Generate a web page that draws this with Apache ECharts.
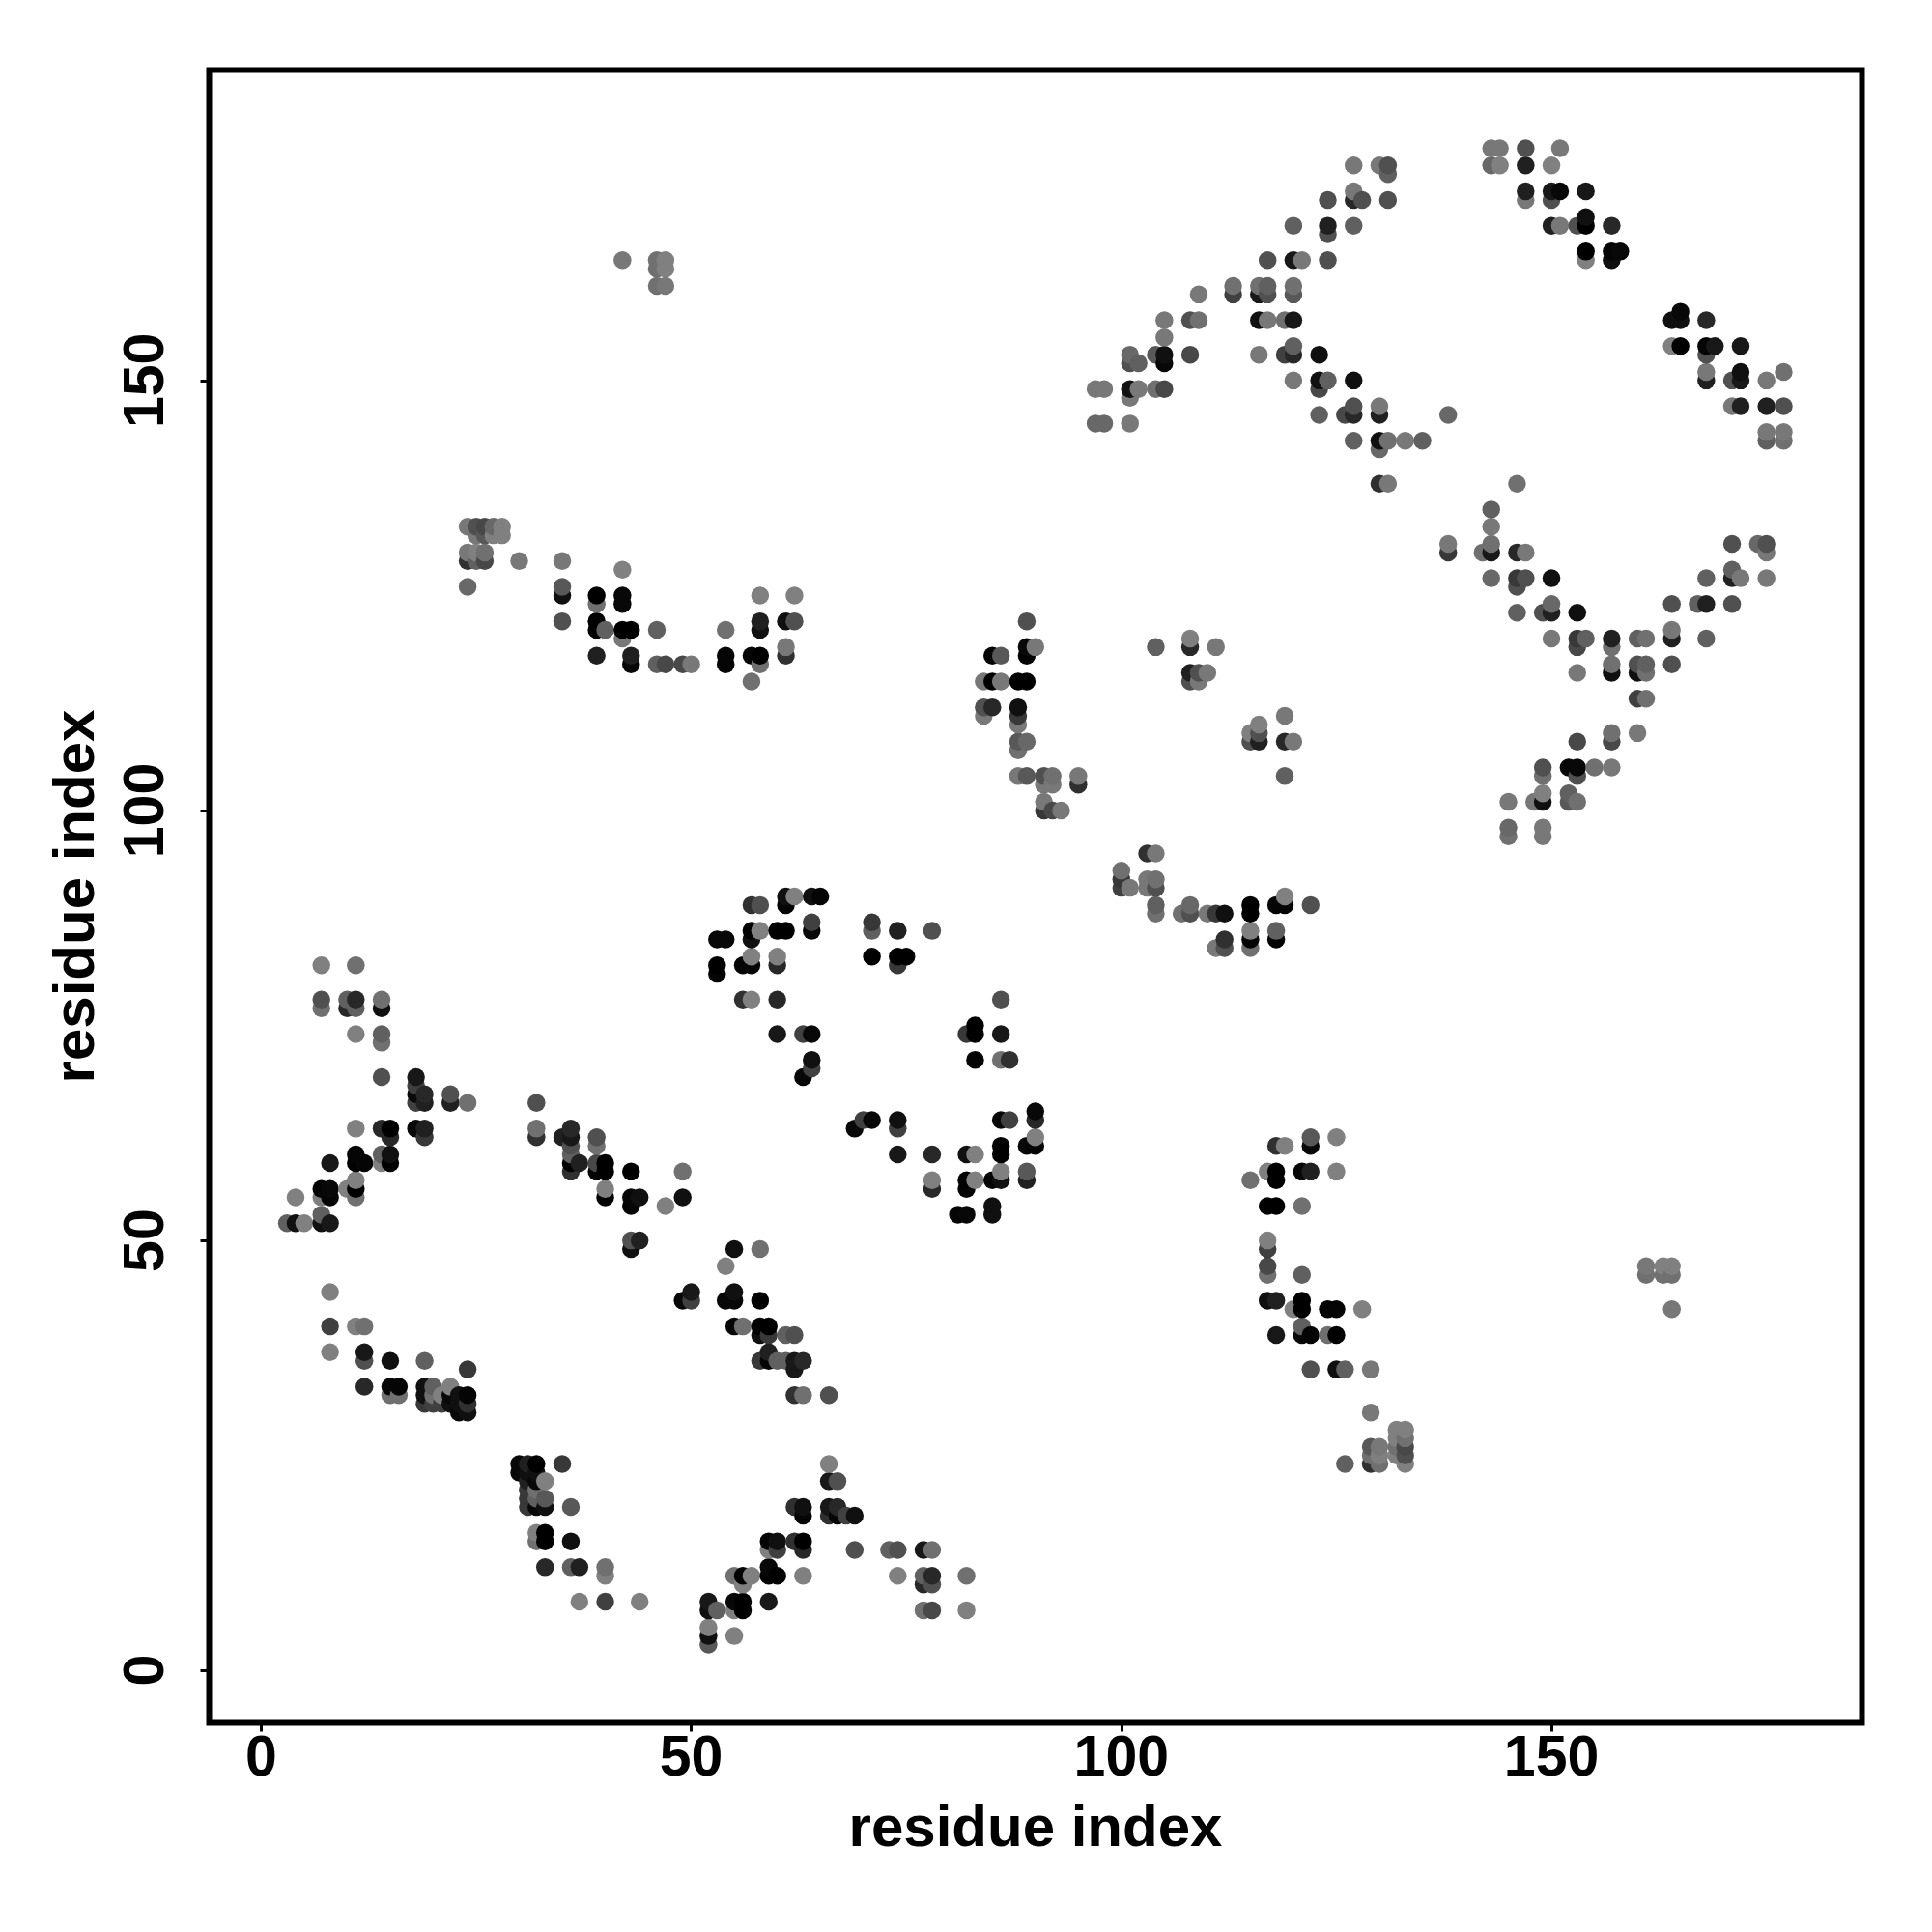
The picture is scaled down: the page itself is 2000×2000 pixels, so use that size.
<!DOCTYPE html>
<html>
<head>
<meta charset="utf-8">
<style>html,body{margin:0;padding:0;background:#fff}#chart{width:2000px;height:2000px}</style>
<script src="https://cdn.jsdelivr.net/npm/echarts@6/dist/echarts.min.js"></script>
</head>
<body>
<div id="chart"></div>
<script>
// Each contact: [residue x, residue y, grey level]
const lowerLeft = [
[8,44,128],[8,40,64],[11,40,128],[12,40,112],[8,37,128],[12,37,24],[12,36,80],[15,36,16],[19,36,96],[24,35,56],
[12,33,40],[15,33,8],[16,33,5],[15,32,112],[16,32,112],[19,33,16],[20,33,96],[19,32,16],[19,31,56],[20,31,64],[20,32,112],
[21,31,64],[21,32,128],[22,33,128],[22,32,8],[22,31,16],[23,32,16],[24,32,5],[23,31,16],[24,31,48],[23,30,8],[24,30,16],
[30,24,8],[31,24,32],[32,24,0],[35,24,56],[30,23,8],[31,23,16],[32,23,16],[31,22,32],[32,22,8],[33,22,128],
[31,21,56],[32,21,112],[33,20,88],[31,20,56],[32,20,96],[31,19,56],[32,19,8],[33,19,16],[36,19,88],
[32,16,128],[33,16,0],[32,15,112],[33,15,0],[36,15,16],[33,12,40],[36,12,96],[37,12,32],[40,12,112],[40,11,128],
[37,8,128],[40,8,64],[44,8,128]
];
const lowerMiddle = [
[49,43,8],[50,44,24],[50,43,64],[55,49,16],[58,49,112],[54,47,128],[55,44,16],[54,43,8],[55,43,8],[58,43,0],
[55,40,5],[56,40,112],[58,40,0],[59,40,0],[58,39,16],[59,39,56],[61,39,96],[62,39,80],[59,37,32],[58,36,56],[59,36,5],
[60,36,96],[61,36,96],[62,36,24],[63,36,40],[62,35,24],[62,32,48],[63,32,112],[66,32,80],[66,24,128],[66,22,24],[67,22,80],
[62,19,48],[63,19,16],[63,18,5],[66,19,24],[67,19,40],[66,18,48],[67,18,5],[68,18,64],[69,18,16],
[59,15,5],[60,15,16],[59,14,128],[60,14,64],[62,15,48],[63,15,0],[63,14,40],[69,14,80],[73,14,96],[74,14,80],[77,14,24],[78,14,112],
[55,11,112],[56,11,0],[57,11,128],[56,10,128],[59,12,8],[59,11,0],[60,11,0],[63,11,128],[74,11,128],[77,11,96],[78,11,40],
[77,10,40],[78,10,80],[82,11,112],[52,8,24],[52,7,16],[53,7,96],[55,8,8],[56,8,0],[55,7,128],[56,7,0],[59,8,24],
[77,7,112],[78,7,72],[82,7,128],[55,4,128],[52,5,128],[52,4,16],[52,3,88]
];
const leftBranch = [
[7,82,128],[11,82,112],[7,78,80],[7,77,112],[10,78,96],[11,78,40],[10,77,40],[11,77,96],[14,78,112],[14,77,16],
[11,74,128],[14,74,96],[14,73,112],[14,69,80],[18,69,24],[18,68,64],[18,67,8],[19,67,40],[18,66,64],[19,66,32],
[22,67,80],[22,66,32],[24,66,112],[11,63,128],[14,63,40],[15,63,0],[15,62,40],[18,63,8],[19,63,32],[19,62,56],
[11,60,5],[8,59,24],[11,59,0],[12,59,5],[14,60,96],[15,60,16],[14,59,128],[15,59,0],[7,56,5],[8,56,8],[7,55,128],[8,55,5],
[4,55,128],[10,56,128],[11,57,128],[11,56,0],[11,55,112],[7,53,96],[3,52,96],[4,52,16],[5,52,128],[7,52,16],[8,52,24],
[32,66,80],[32,63,112],[32,62,48],[36,63,40],[35,62,32],[36,62,24],[36,61,80],[36,60,96],[36,59,0],[37,59,32],[36,58,48],
[39,62,80],[39,61,112],[39,59,72],[40,59,0],[39,58,5],[40,58,0],[43,58,0],[49,58,112],[40,56,128],[40,55,0],
[43,55,8],[44,55,16],[43,54,5],[47,54,128],[49,55,16],[43,50,80],[44,50,32],[43,49,16]
];
const middleGroup = [
[57,89,48],[58,89,80],[61,90,16],[62,90,128],[61,89,5],[64,90,16],[65,90,5],[53,85,8],[54,85,8],[57,86,0],[58,86,128],[57,85,16],
[60,86,0],[61,86,0],[64,87,64],[64,86,8],[53,82,0],[53,81,5],[56,82,5],[57,83,128],[57,82,5],[60,83,128],[60,82,40],
[56,78,48],[57,78,128],[60,78,40],[60,74,24],[63,74,64],[64,74,8],[64,71,16],[64,70,64],[63,69,8],
[71,87,56],[71,86,96],[74,86,32],[78,86,80],[71,83,0],[74,83,0],[75,83,0],[74,82,56],[86,78,80],[83,75,0],[82,74,56],[83,74,0],
[86,74,24],[83,71,5],[86,71,112],[87,71,48],[90,65,8],[90,64,40],[86,64,8],[87,64,64],[70,64,64],[71,64,8],[69,63,8],
[74,64,16],[74,63,64],[74,60,24],[78,60,40],[82,60,16],[83,60,128],[86,61,0],[86,60,0],[89,61,8],[90,62,128],[90,61,5],
[78,57,128],[78,56,40],[82,57,0],[83,57,128],[82,56,5],[85,57,5],[86,58,128],[86,57,16],[89,58,88],[89,57,32],
[81,53,5],[82,53,8],[85,54,16],[85,53,16]
];
const lowerRight = [
[118,61,48],[119,61,128],[122,62,88],[122,61,8],[125,62,128],[117,58,128],[118,58,0],[118,57,0],[115,57,112],[121,58,8],[122,58,32],[125,58,128],
[117,54,0],[118,54,0],[121,54,112],[117,50,128],[117,49,64],[117,47,72],[117,46,112],[121,46,96],[117,43,16],[118,43,32],
[121,43,0],[121,42,0],[120,42,128],[124,42,5],[125,42,5],[128,42,128],[121,40,96],[118,39,24],[121,39,8],[122,39,5],[124,39,112],[125,39,0],
[122,35,80],[125,35,16],[126,35,96],[129,35,120],[129,30,120],[126,24,96],[129,26,88],[130,26,120],[129,25,112],[130,25,128],[129,24,48],[130,24,112],
[132,28,128],[133,28,128],[132,27,128],[133,27,112],[132,26,112],[133,26,72],[132,25,128],[133,25,80],[133,24,128],
[161,47,120],[161,46,112],[163,47,128],[164,47,128],[163,46,112],[164,46,112],[164,42,120]
];
const centreGroup = [
[104,119,96],[108,120,128],[108,119,40],[111,119,120],[108,116,32],[109,116,80],[110,116,120],[108,115,80],[109,115,120],
[116,110,128],[115,109,128],[116,109,80],[115,108,80],[116,108,32],[119,111,120],[119,108,40],[120,108,120],[119,104,96],
[103,95,48],[104,95,120],[100,93,112],[100,92,56],[100,91,64],[101,91,120],[103,92,120],[104,92,112],[103,91,120],[104,91,80],
[104,89,96],[104,88,112],[107,88,112],[108,89,104],[108,88,80],[110,88,120],[111,88,56],[112,88,16],[115,89,0],[115,88,0],
[118,89,5],[119,90,128],[119,89,5],[122,89,80],[112,85,48],[111,84,120],[112,84,80],[115,86,128],[115,85,5],[115,84,112],[118,86,96],[118,85,5]
];
const centreStem = [
[89,122,80],[89,119,8],[90,119,120],[89,118,0],[85,118,5],[86,118,88],[84,115,120],[85,115,0],[86,115,120],[88,115,0],[89,115,0],
[84,112,80],[85,112,40],[84,111,120],[88,112,16],[88,111,56],[88,110,120],[88,108,88],[89,108,104],[88,107,112],
[88,104,120],[89,104,88],[91,104,80],[92,104,112],[91,103,120],[92,103,120],[95,104,120],[95,103,48],
[91,101,120],[91,100,56],[92,100,72],[93,100,120]
];
const upperLeft = [
[42,164,120],[46,164,112],[47,164,128],[46,163,112],[47,163,128],[46,161,112],[47,161,120],
[24,133,120],[25,133,80],[26,133,72],[27,133,104],[28,133,128],[25,132,120],[26,132,88],[27,132,128],[28,132,128],
[24,130,120],[25,130,128],[26,130,112],[24,129,48],[25,129,96],[26,129,72],[30,129,120],[35,129,120],[24,126,104],
[35,126,88],[35,125,16],[35,122,80],[42,128,128],[39,125,0],[39,124,112],[42,125,8],[42,124,8],[39,122,0],[39,121,0],[40,121,96],
[42,121,0],[43,121,0],[42,120,120],[46,121,96],[39,118,32],[43,118,32],[43,117,8],[46,117,96],[47,117,72],[49,117,72],[50,117,120],
[54,121,112],[54,118,5],[54,117,5],[57,118,5],[58,118,0],[58,117,112],[57,115,112],[58,125,128],[62,125,128],
[58,122,32],[58,121,16],[61,122,16],[62,122,80],[61,119,120],[61,118,48]
];
const upperRidge = [
[127,175,120],[130,175,120],[131,175,80],[131,174,96],[127,172,120],[124,171,80],[127,171,40],[128,171,80],[131,171,80],
[120,168,96],[124,168,32],[124,167,80],[127,168,96],[117,164,80],[120,164,24],[121,164,120],[124,164,80],
[113,161,112],[113,160,64],[116,161,112],[117,161,96],[116,160,24],[117,160,80],[120,161,112],[120,160,88],[109,160,120],
[105,157,120],[108,157,80],[109,157,112],[116,157,16],[117,157,120],[119,157,112],[120,157,24],[105,155,120],
[101,153,104],[101,152,80],[102,152,96],[104,153,88],[105,153,16],[105,152,8],[108,153,72],[116,153,120],[119,153,64],[120,154,96],[120,153,40],[123,153,16],
[97,149,120],[98,149,120],[101,149,16],[102,149,120],[101,148,120],[104,149,112],[105,149,72],[120,150,120],[123,150,16],[124,150,96],[123,149,72],[127,150,16],
[97,145,104],[98,145,104],[101,145,120],[123,146,96],[126,146,72],[127,147,80],[127,146,40],[130,147,120],[130,146,32],[138,146,104],
[127,143,96],[130,143,16],[131,143,112],[133,143,120],[135,143,96],[130,142,104],[130,138,48],[131,138,120]
];
const upperRight = [
[143,177,120],[144,177,120],[147,177,80],[151,177,120],[143,175,104],[144,175,128],[147,175,32],[150,175,128],
[147,172,32],[147,171,120],[150,172,24],[151,172,8],[150,171,80],[154,172,24],[150,168,32],[151,168,120],[153,168,80],[154,169,16],[154,168,0],[157,168,40],
[154,165,0],[154,164,128],[157,165,5],[158,165,8],[157,164,16],[165,158,8],[164,157,16],[165,157,16],[168,157,40],
[164,154,128],[165,154,0],[168,154,5],[169,154,24],[172,154,24],[168,153,80],[168,151,120],[168,150,32],[171,150,80],[172,151,16],[172,150,24],[175,150,120],[177,151,112],
[171,147,120],[172,147,32],[175,147,32],[177,147,80],[175,144,120],[175,143,96],[177,144,120],[177,143,112]
];
const rightVee = [
[146,138,112],[143,135,96],[143,133,120],[143,131,112],[143,130,24],[142,130,112],[138,131,120],[138,130,56],[146,130,40],[147,130,120],
[143,127,104],[146,127,56],[147,127,80],[146,126,80],[150,127,16],[146,123,96],[149,123,80],[150,124,104],[150,123,32],[153,123,16],
[150,120,120],[153,120,56],[154,120,96],[153,119,72],[157,120,32],[157,119,112],[160,120,96],[161,120,112],[164,121,120],[164,120,32],[168,120,96],
[164,124,80],[167,124,96],[168,124,32],[171,124,80],[168,127,96],[171,128,96],[171,127,32],[172,127,120],[175,127,120],[171,131,80],[174,131,104],[175,131,80],[175,130,120],
[153,116,120],[157,117,112],[157,116,16],[160,117,80],[161,117,96],[160,116,16],[161,116,112],[164,117,80],[160,113,64],[161,113,112],
[160,109,120],[153,108,72],[157,109,112],[157,108,72],[149,105,80],[149,104,112],[152,105,8],[153,105,8],[153,104,80],[155,105,112],[157,105,120],
[145,101,120],[148,101,120],[149,102,128],[149,101,16],[152,102,96],[152,101,88],[153,101,112],[145,98,104],[145,97,112],[149,98,120],[149,97,120]
];
const xTicks = [0, 50, 100, 150];
const yTicks = [0, 50, 100, 150];
const xTitle = 'residue index';
const yTitle = 'residue index';

const blocks = [lowerLeft, lowerMiddle, leftBranch, middleGroup, lowerRight, centreGroup, centreStem, upperLeft, upperRidge, upperRight, rightVee];
const unique = new Map();
blocks.forEach(b => b.forEach(p => unique.set(p[0] + ',' + p[1], p)));
// Points are painted column by column, bottom to top
const points = [...unique.values()].sort((a, b) => a[0] - b[0] || a[1] - b[1]);
const seriesData = points.map(p => ({
  value: [p[0], p[1]],
  itemStyle: { color: 'rgb(' + p[2] + ',' + p[2] + ',' + p[2] + ')', opacity: 1 }
}));

const font = '"Liberation Sans", Arial, sans-serif';
const chart = echarts.init(document.getElementById('chart'), null, { renderer: 'canvas' });
chart.setOption({
  animation: false,
  backgroundColor: '#fff',
  grid: { left: 216.5, right: 72.5, top: 72.5, bottom: 216.5, show: true, borderColor: '#000', borderWidth: 6, backgroundColor: 'transparent' },
  xAxis: {
    type: 'value', min: -6.05, max: 186.1,
    splitLine: { show: false }, axisLine: { show: false, onZero: false },
    axisTick: { show: true, length: 9, lineStyle: { color: '#000', width: 3 }, customValues: xTicks },
    axisLabel: { show: true, customValues: xTicks, color: '#000', fontFamily: font, fontWeight: 'bold', fontSize: 59, margin: 9, hideOverlap: false },
    name: xTitle, nameLocation: 'middle', nameGap: 80.5,
    nameTextStyle: { color: '#000', fontFamily: font, fontWeight: 'bold', fontSize: 60 }
  },
  yAxis: {
    type: 'value', min: -6.1, max: 186.1,
    splitLine: { show: false }, axisLine: { show: false, onZero: false },
    axisTick: { show: true, length: 9, lineStyle: { color: '#000', width: 3 }, customValues: yTicks },
    axisLabel: { show: true, customValues: yTicks, rotate: 90, color: '#000', fontFamily: font, fontWeight: 'bold', fontSize: 59, margin: 34, hideOverlap: false },
    name: yTitle, nameLocation: 'middle', nameGap: 106,
    nameTextStyle: { color: '#000', fontFamily: font, fontWeight: 'bold', fontSize: 60 }
  },
  series: [{
    type: 'scatter', symbol: 'circle', symbolSize: 18.5, data: seriesData,
    large: false, progressive: 0, silent: true
  }]
});
</script>
</body>
</html>
